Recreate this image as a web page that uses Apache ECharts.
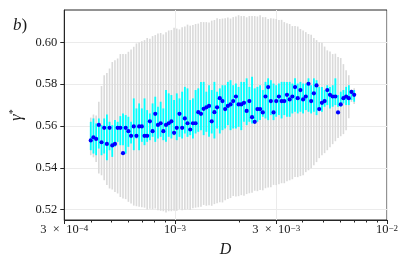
<!DOCTYPE html>
<html>
<head>
<meta charset="utf-8">
<script src="https://cdn.jsdelivr.net/npm/echarts@6/dist/echarts.min.js"></script>
<style>
html,body{margin:0;padding:0;background:#fff;}
#c{width:407px;height:266px;}
</style>
</head>
<body>
<div id="c"></div>
<script>
// ---- data ----
const D = [
4.000e-4,4.119e-4,4.241e-4,4.366e-4,4.496e-4,4.629e-4,4.766e-4,4.907e-4,5.053e-4,5.203e-4,
5.357e-4,5.516e-4,5.679e-4,5.847e-4,6.021e-4,6.199e-4,6.383e-4,6.572e-4,6.767e-4,6.967e-4,
7.174e-4,7.386e-4,7.605e-4,7.831e-4,8.063e-4,8.302e-4,8.548e-4,8.801e-4,9.062e-4,9.331e-4,
9.607e-4,9.892e-4,1.0185e-3,1.0487e-3,1.0798e-3,1.1118e-3,1.1447e-3,1.1787e-3,1.2136e-3,1.2496e-3,
1.2866e-3,1.3247e-3,1.3640e-3,1.4044e-3,1.4460e-3,1.4889e-3,1.5330e-3,1.5785e-3,1.6252e-3,1.6734e-3,
1.7230e-3,1.7741e-3,1.8266e-3,1.8808e-3,1.9365e-3,1.9939e-3,2.0530e-3,2.1138e-3,2.1765e-3,2.2410e-3,
2.3074e-3,2.3758e-3,2.4462e-3,2.5187e-3,2.5933e-3,2.6702e-3,2.7493e-3,2.8308e-3,2.9147e-3,3.0011e-3,
3.0900e-3,3.1816e-3,3.2759e-3,3.3730e-3,3.4729e-3,3.5758e-3,3.6818e-3,3.7909e-3,3.9033e-3,4.0190e-3,
4.1381e-3,4.2607e-3,4.3870e-3,4.5170e-3,4.6509e-3,4.7887e-3,4.9306e-3,5.0768e-3,5.2272e-3,5.3821e-3,
5.5416e-3,5.7059e-3,5.8750e-3,6.0491e-3,6.2283e-3,6.4129e-3,6.6030e-3,6.7987e-3,7.0002e-3
];
const gamma = [
0.5531,0.5546,0.5538,0.5605,0.5522,0.5591,0.5514,0.5591,0.5507,0.5514,
0.5591,0.5591,0.5470,0.5591,0.5575,0.5553,0.5598,0.5553,0.5598,0.5598,
0.5553,0.5553,0.5622,0.5575,0.5658,0.5605,0.5613,0.5575,0.5605,0.5613,
0.5622,0.5567,0.5591,0.5658,0.5591,0.5636,0.5613,0.5583,0.5613,0.5613,
0.5666,0.5658,0.5682,0.5689,0.5696,0.5622,0.5666,0.5689,0.5733,0.5719,
0.5681,0.5696,0.5703,0.5719,0.5741,0.5703,0.5703,0.5711,0.5672,0.5719,
0.5642,0.5620,0.5681,0.5681,0.5665,0.5741,0.5786,0.5719,0.5665,0.5719,
0.5741,0.5719,0.5719,0.5749,0.5727,0.5741,0.5786,0.5733,0.5772,0.5727,
0.5741,0.5802,0.5719,0.5756,0.5794,0.5681,0.5711,0.5719,0.5772,0.5749,
0.5741,0.5741,0.5665,0.5703,0.5733,0.5741,0.5733,0.5763,0.5749
];
const cyanHi = [
0.5620,0.5636,0.5612,0.5636,0.5604,0.5636,0.5655,0.5620,0.5604,0.5628,
0.5620,0.5647,0.5660,0.5652,0.5644,0.5620,0.5732,0.5684,0.5708,0.5684,
0.5732,0.5676,0.5660,0.5708,0.5740,0.5692,0.5716,0.5684,0.5772,0.5756,
0.5748,0.5724,0.5756,0.5732,0.5764,0.5787,0.5780,0.5724,0.5732,0.5772,
0.5780,0.5811,0.5811,0.5764,0.5795,0.5772,0.5811,0.5764,0.5780,0.5795,
0.5795,0.5811,0.5819,0.5795,0.5803,0.5787,0.5811,0.5811,0.5828,0.5787,
0.5835,0.5780,0.5787,0.5795,0.5772,0.5811,0.5828,0.5819,0.5803,0.5795,
0.5803,0.5811,0.5811,0.5811,0.5811,0.5803,0.5828,0.5803,0.5811,0.5803,
0.5803,0.5828,0.5795,0.5828,0.5819,0.5787,0.5787,0.5772,0.5795,0.5787,
0.5795,0.5828,0.5748,0.5764,0.5772,0.5787,0.5795,0.5764,0.5772
];
const cyanLo = [
0.5484,0.5468,0.5460,0.5492,0.5460,0.5468,0.5436,0.5484,0.5452,0.5500,
0.5524,0.5508,0.5508,0.5468,0.5500,0.5516,0.5484,0.5540,0.5484,0.5524,
0.5508,0.5524,0.5532,0.5548,0.5524,0.5540,0.5548,0.5532,0.5524,0.5548,
0.5540,0.5556,0.5532,0.5548,0.5540,0.5564,0.5548,0.5556,0.5540,0.5564,
0.5572,0.5580,0.5556,0.5572,0.5548,0.5564,0.5540,0.5588,0.5564,0.5580,
0.5588,0.5604,0.5580,0.5588,0.5588,0.5596,0.5580,0.5620,0.5604,0.5620,
0.5612,0.5612,0.5620,0.5628,0.5644,0.5636,0.5628,0.5652,0.5628,0.5644,
0.5652,0.5636,0.5652,0.5644,0.5644,0.5660,0.5668,0.5660,0.5668,0.5660,
0.5676,0.5668,0.5660,0.5668,0.5652,0.5676,0.5668,0.5692,0.5700,0.5684,
0.5692,0.5700,0.5692,0.5692,0.5708,0.5700,0.5700,0.5724,0.5716
];
const grayHi = [
0.5640,0.5655,0.5650,0.5716,0.5791,0.5843,0.5854,0.5875,0.5906,0.5915,
0.5923,0.5944,0.5944,0.5944,0.5955,0.5966,0.5979,0.5995,0.6000,0.6006,
0.6011,0.6021,0.6018,0.6030,0.6035,0.6043,0.6045,0.6038,0.6049,0.6057,
0.6059,0.6070,0.6066,0.6062,0.6073,0.6076,0.6085,0.6080,0.6083,0.6088,
0.6090,0.6098,0.6097,0.6097,0.6095,0.6104,0.6107,0.6115,0.6112,0.6114,
0.6116,0.6119,0.6114,0.6121,0.6124,0.6130,0.6126,0.6126,0.6120,0.6126,
0.6126,0.6126,0.6124,0.6130,0.6121,0.6121,0.6112,0.6116,0.6114,0.6112,
0.6107,0.6108,0.6097,0.6092,0.6088,0.6078,0.6078,0.6076,0.6064,0.6057,
0.6049,0.6040,0.6036,0.6021,0.6011,0.6001,0.5998,0.5980,0.5962,0.5956,
0.5944,0.5946,0.5930,0.5925,0.5896,0.5867,0.5843,0.5775,0.5780
];
const grayLo = [
0.5460,0.5450,0.5428,0.5373,0.5364,0.5340,0.5317,0.5301,0.5296,0.5284,
0.5277,0.5260,0.5253,0.5250,0.5237,0.5229,0.5219,0.5216,0.5213,0.5211,
0.5209,0.5200,0.5204,0.5202,0.5205,0.5197,0.5194,0.5192,0.5186,0.5192,
0.5192,0.5194,0.5194,0.5203,0.5197,0.5199,0.5202,0.5198,0.5206,0.5209,
0.5211,0.5213,0.5222,0.5218,0.5221,0.5218,0.5226,0.5230,0.5235,0.5234,
0.5245,0.5250,0.5255,0.5265,0.5262,0.5264,0.5269,0.5266,0.5274,0.5278,
0.5281,0.5290,0.5288,0.5293,0.5292,0.5302,0.5305,0.5307,0.5318,0.5317,
0.5321,0.5326,0.5326,0.5336,0.5340,0.5345,0.5356,0.5355,0.5360,0.5364,
0.5379,0.5388,0.5398,0.5412,0.5427,0.5446,0.5460,0.5470,0.5484,0.5498,
0.5513,0.5527,0.5542,0.5551,0.5561,0.5580,0.5637,0.5715,0.5705
];
const xTickValues = [3e-4, 1e-3, 3e-3, 1e-2];
const xTickLabels = ['3\u2002×\u200210{s|−4}', '10{s|−3}', '3\u2002×\u200210{s|−3}', '10{s|−2}'];
const xMinorTicks = [4e-4,5e-4,6e-4,7e-4,8e-4,9e-4,2e-3,4e-3,5e-3,6e-3,7e-3,8e-3,9e-3];
const yTickValues = [0.52, 0.54, 0.56, 0.58, 0.60];
const yTickLabels = ['0.52', '0.54', '0.56', '0.58', '0.60'];

// ---- chart ----
const FONT = 'Liberation Serif';
const TXT = '#1a1a1a';
const chart = echarts.init(document.getElementById('c'), null, {renderer: 'canvas'});

function barSeries(lo, hi, color, w, z) {
  return {
    type: 'custom',
    xAxisIndex: 0,
    yAxisIndex: 0,
    z: z,
    silent: true,
    data: D.map((d, i) => [d, lo[i], hi[i]]),
    encode: {x: 0, y: [1, 2]},
    renderItem: function (params, api) {
      const a = api.coord([api.value(0), api.value(1)]);
      const b = api.coord([api.value(0), api.value(2)]);
      return {
        type: 'rect',
        shape: {x: a[0] - w / 2, y: b[1], width: w, height: a[1] - b[1]},
        style: {fill: color}
      };
    }
  };
}

const option = {
  animation: false,
  backgroundColor: '#ffffff',
  title: {
    text: '{b|b})',
    left: 8,
    top: 12,
    textStyle: {
      fontFamily: FONT, fontSize: 17, fontWeight: 'normal', color: TXT,
      rich: {b: {fontFamily: FONT, fontSize: 17, fontStyle: 'italic', color: TXT}}
    }
  },
  grid: {left: 62, right: 20, top: 10, bottom: 46, show: true, borderColor: '#262626', borderWidth: 1, backgroundColor: 'transparent'},
  xAxis: [
    {
      type: 'log', logBase: 10, min: 3e-4, max: 1e-2,
      name: 'D', nameLocation: 'middle', nameGap: 22,
      nameTextStyle: {fontFamily: FONT, fontSize: 16, fontStyle: 'italic', color: TXT},
      axisLine: {show: true, lineStyle: {color: '#262626', width: 1}},
      axisTick: {show: true, customValues: xTickValues, length: 4, lineStyle: {color: '#262626'}},
      axisLabel: {
        customValues: xTickValues, margin: 4, color: TXT,
        fontFamily: FONT, fontSize: 12.5,
        formatter: function (v) {
          const i = xTickValues.findIndex(t => Math.abs(t - v) / t < 1e-4);
          return i >= 0 ? '{n|' + xTickLabels[i].replace('{s|', '}{s|') : '';
        },
        rich: {
          n: {fontFamily: FONT, fontSize: 12.5, color: TXT, lineHeight: 12.5, padding: [4, 0, 0, 0], verticalAlign: 'bottom'},
          s: {fontFamily: FONT, fontSize: 9, color: TXT, lineHeight: 9, verticalAlign: 'top'}
        }
      },
      splitLine: {show: true, lineStyle: {color: '#ebebeb', width: 1}},
      minorTick: {show: false}, minorSplitLine: {show: false}
    },
    {
      type: 'log', logBase: 10, min: 3e-4, max: 1e-2, gridIndex: 0, position: 'bottom',
      axisLine: {show: false},
      axisTick: {show: true, customValues: xMinorTicks, length: 2.5, lineStyle: {color: '#262626'}},
      axisLabel: {show: false},
      splitLine: {show: false}
    }
  ],
  yAxis: {
    type: 'value', min: 0.515, max: 0.6155,
    name: 'γ{s|*}', nameLocation: 'middle', nameRotate: 90, nameGap: 38,
    nameTextStyle: {
      fontFamily: FONT, fontSize: 16, fontStyle: 'italic', color: TXT,
      rich: {s: {fontFamily: FONT, fontSize: 10, fontStyle: 'normal', color: TXT, padding: [0, 0, 7, 0]}}
    },
    axisLine: {show: true, lineStyle: {color: '#262626', width: 1}},
    axisTick: {show: true, customValues: yTickValues, length: 4, lineStyle: {color: '#262626'}},
    axisLabel: {
      customValues: yTickValues, margin: 7, color: TXT, fontFamily: FONT, fontSize: 12.5,
      formatter: function (v) {
        const i = yTickValues.findIndex(t => Math.abs(t - v) < 1e-6);
        return i >= 0 ? yTickLabels[i] : '';
      }
    },
    splitLine: {show: true, lineStyle: {color: '#ebebeb', width: 1}}
  },
  series: [
    barSeries(grayLo, grayHi, '#dadada', 1.6, 2),
    barSeries(cyanLo, cyanHi, '#00ffff', 1.8, 3),
    {
      type: 'scatter', xAxisIndex: 0, yAxisIndex: 0, z: 4,
      data: D.map((d, i) => [d, gamma[i]]),
      symbol: 'circle', symbolSize: 4.2,
      itemStyle: {color: '#0000ff', opacity: 1},
      silent: true
    }
  ]
};
chart.setOption(option);
</script>
</body>
</html>
